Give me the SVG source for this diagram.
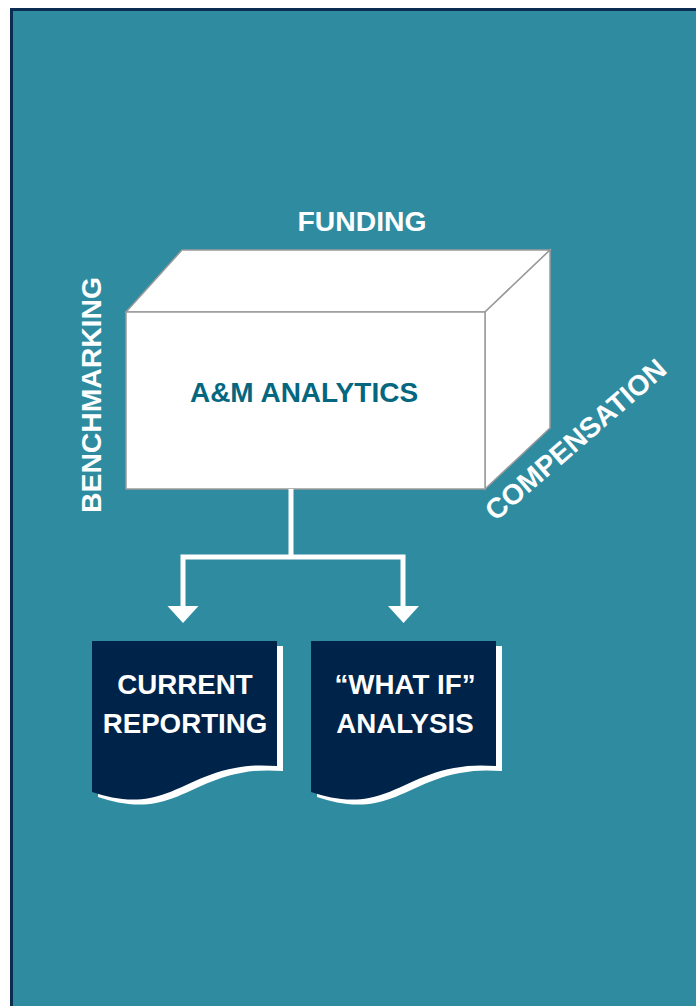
<svg xmlns="http://www.w3.org/2000/svg" xmlns:xlink="http://www.w3.org/1999/xlink" width="696" height="1006" viewBox="0 0 696 1006">
<style>
.lbl{font-family:"Liberation Sans",Arial,sans-serif;font-weight:bold;fill:#ffffff;font-size:28.3px}
.doc{font-family:"Liberation Sans",Arial,sans-serif;font-weight:bold;fill:#ffffff;font-size:27.7px;text-anchor:middle}
.box{fill:#ffffff;stroke:#9a9a9a;stroke-width:1.5;stroke-linejoin:miter}
.conn{stroke:#ffffff;stroke-width:5;fill:none}
</style>
<defs>
<path id="docShape" d="M92,641 H277 V766 C262,765 250,765 235,768 C200,774 180,792 150,798 C130,802 110,798 92,792 Z"/>
<polygon id="arrowHead" points="-15.5,0 15.5,0 0,17" fill="#ffffff"/>
</defs>
<rect x="0" y="0" width="696" height="1006" fill="#ffffff"/>
<rect x="10" y="8" width="686" height="998" fill="#2f8ca0"/>
<rect x="10" y="8" width="686" height="3" fill="#0c2c52"/>
<rect x="10" y="8" width="3" height="998" fill="#0c2c52"/>

<g id="cube">
<polygon class="box" points="126,312 182,250 550,250 485,312"/>
<polygon class="box" points="485,312 550,250 550,428 485,489"/>
<rect class="box" x="126" y="312" width="359" height="177"/>
<text x="304" y="402" text-anchor="middle" font-family="Liberation Sans,Arial,sans-serif" font-weight="bold" font-size="28" fill="#05677f">A&amp;M ANALYTICS</text>
</g>

<g id="label-funding"><text class="lbl" x="362" y="231" text-anchor="middle">FUNDING</text></g>
<g id="label-benchmarking"><text class="lbl" transform="translate(101,395) rotate(-90)" text-anchor="middle">BENCHMARKING</text></g>
<g id="label-compensation"><text class="lbl" transform="translate(582,447) rotate(-41)" text-anchor="middle">COMPENSATION</text></g>

<g id="connectors">
<path class="conn" d="M291,489 V557 M183,557 H403 M183,554.5 V608 M403,554.5 V608"/>
<use xlink:href="#arrowHead" transform="translate(183,606)"/>
<use xlink:href="#arrowHead" transform="translate(403.5,606)"/>
</g>

<g id="doc-current">
<use xlink:href="#docShape" fill="#ffffff" transform="translate(6,5)"/>
<use xlink:href="#docShape" fill="#00234a"/>
<text class="doc" x="185" y="694">CURRENT</text>
<text class="doc" x="185" y="733">REPORTING</text>
</g>

<g id="doc-whatif">
<use xlink:href="#docShape" fill="#ffffff" transform="translate(225,5)"/>
<use xlink:href="#docShape" fill="#00234a" transform="translate(219,0)"/>
<text class="doc" x="405" y="694">“WHAT IF”</text>
<text class="doc" x="405" y="733">ANALYSIS</text>
</g>
</svg>
